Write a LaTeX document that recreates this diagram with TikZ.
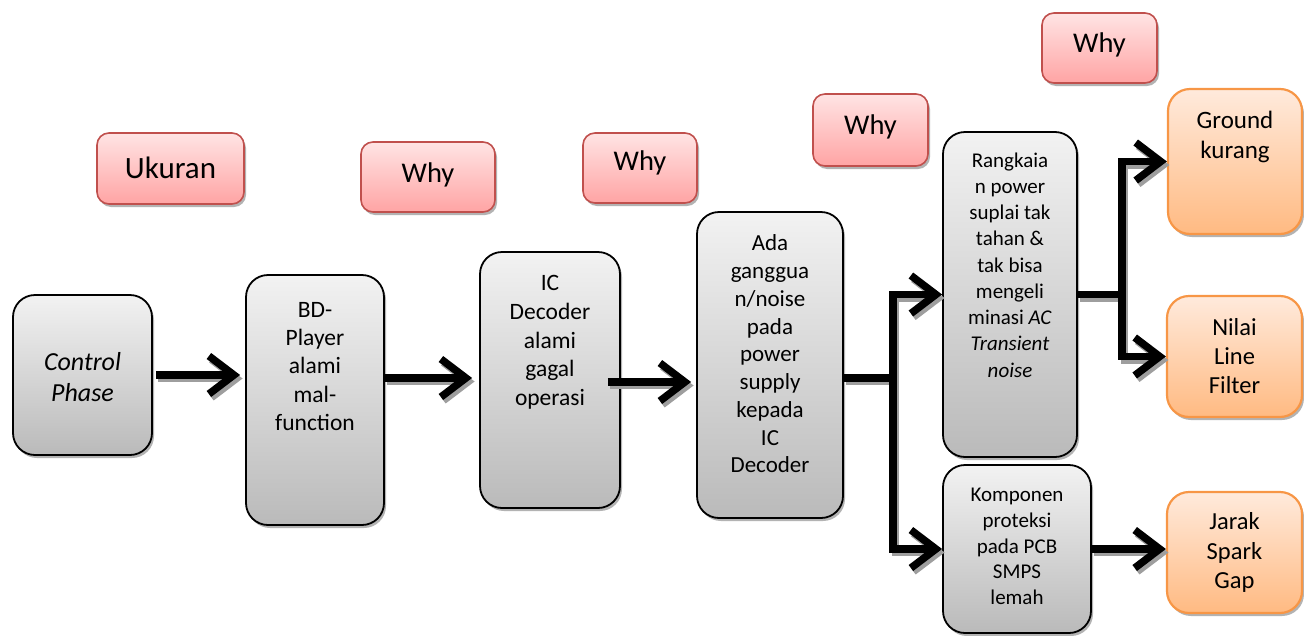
\documentclass[tikz,border=0pt]{standalone}
\usepackage{fontspec}
\setmainfont{Carlito}
\usetikzlibrary{arrows.meta,shadows}

\definecolor{redline}{HTML}{C0504D}
\definecolor{redtop}{HTML}{FFE4E4}
\definecolor{redbot}{HTML}{FFA4A4}
\definecolor{orline}{HTML}{F79646}
\definecolor{ortop}{HTML}{FFEADC}
\definecolor{orbot}{HTML}{FFBA82}
\definecolor{graytop}{HTML}{F2F2F2}
\definecolor{graybot}{HTML}{BABABA}

\newcommand\setfs[2]{\fontsize{#1}{#2}\selectfont}

\tikzset{
  sz/.style 2 args={minimum width=#1pt, minimum height=#2pt},
  boxshadow/.style={drop shadow={shadow xshift=2pt, shadow yshift=-3pt, opacity=0.4, fill=black!75}},
  graybox/.style={draw=black, line width=1.8pt, rounded corners=22pt,
    top color=graytop, bottom color=graybot, inner sep=0pt, boxshadow},
  redbox/.style={draw=redline, line width=1.6pt, rounded corners=12pt,
    top color=redtop, bottom color=redbot, inner sep=0pt, boxshadow},
  orbox/.style={draw=orline, line width=2.2pt, rounded corners=22pt,
    top color=ortop, bottom color=orbot, inner sep=0pt, boxshadow},
  txt/.style={align=center, inner sep=0pt, text=black},
  link/.style={draw=black, line width=7.5pt, line join=miter},
  tip/.style={-{Straight Barb[length=25pt, width=38pt]}},
}

% all connectors, drawn once as shadow and once in black
\newcommand\flowlinks{%
  \draw[link, tip, shorten <=3pt, shorten >=5pt] (cp.east) -- (cp.east -| bd.west);
  \draw[link, tip, shorten >=7pt] (s2) -- (s2 -| ic.west);
  \draw[link, tip, shorten >=5pt] (s3) -- (s3 -| ada.west);
  \draw[link] (s4) -- (j1);
  \draw[link, tip] (j1) |- (rk.west);
  \draw[link, tip] (j1) |- (kp.west);
  \draw[link] (rk.east) -- (j2);
  \draw[link, tip] (j2) |- (gr.west);
  \draw[link, tip] (j2) |- (nl.west);
  \draw[link, tip] (kp.east) -- (kp.east -| jr.west);
}

\begin{document}
\begin{tikzpicture}[x=1pt, y=-1pt]
\useasboundingbox (0,0) rectangle (1304,635);

% question boxes
\node[redbox, sz={147}{71}] (uk) at (170.5,168.5) {};
\node[txt, font=\setfs{31}{36}] (ukt) at (170.5,168) {Ukuran};
\node[redbox, sz={134}{70}] (w1) at (428,177) {};
\node[txt, font=\setfs{28.5}{34}] (w1t) at (428,175) {Why};
\node[redbox, sz={114}{70}] (w2) at (640,168) {};
\node[txt, font=\setfs{28.5}{34}] (w2t) at (640,163) {Why};
\node[redbox, sz={115}{72}] (w3) at (870.5,130) {};
\node[txt, font=\setfs{28.5}{34}] (w3t) at (870.5,127) {Why};
\node[redbox, sz={115}{70}] (w4) at (1099.5,48) {};
\node[txt, font=\setfs{28.5}{34}] (w4t) at (1099.5,45) {Why};

% cause chain
\node[graybox, sz={139}{160}] (cp) at (82.5,375) {};
\node[txt, font=\setfs{26}{31}\itshape] (cpt) at (82.5,377) {Control\\Phase};

\node[graybox, sz={138}{250}] (bd) at (315,400) {};
\node[txt, font=\setfs{23.5}{28.3}] (bdt) at (315,366.5) {BD-\\Player\\alami\\mal-\\function};

\node[graybox, sz={140}{256}] (ic) at (550,380) {};
\node[txt, font=\setfs{23.5}{28.75}] (ict) at (550,342.5) {IC\\Decoder\\alami\\gagal\\operasi};

\node[graybox, sz={146}{306}] (ada) at (770,365) {};
\node[txt, font=\setfs{23}{27.75}] (adat) at (770,354) {Ada\\ganggua\\n/noise\\pada\\power\\supply\\kepada\\IC\\Decoder};

\node[graybox, sz={134}{325}] (rk) at (1010,294.5) {};
\node[txt, font=\setfs{21}{26.25}] (rkt) at (1010,265) {Rangkaia\\n power\\suplai tak\\tahan \&\\tak bisa\\mengeli\\minasi \textit{AC}\\\textit{Transient}\\\textit{noise}};

\node[graybox, sz={148}{168}] (kp) at (1017,549) {};
\node[txt, font=\setfs{21}{25.8}] (kpt) at (1017,546.5) {Komponen\\proteksi\\pada PCB\\SMPS\\lemah};

% root causes
\node[orbox, sz={134}{145}] (gr) at (1235,161.5) {};
\node[txt, font=\setfs{25}{30}] (grt) at (1235,137) {Ground\\kurang};
\node[orbox, sz={135}{121}] (nl) at (1234.5,356.5) {};
\node[txt, font=\setfs{24.5}{29}] (nlt) at (1234.5,356) {Nilai\\Line\\Filter};
\node[orbox, sz={135}{121}] (jr) at (1234.5,552.5) {};
\node[txt, font=\setfs{24.5}{29.5}] (jrt) at (1234.5,552.5) {Jarak\\Spark\\Gap};

% connector start points and junctions
\coordinate (s2) at ([yshift=22pt]bd.east);
\coordinate (s3) at ([xshift=-13pt, yshift=-2pt]ic.east);
\coordinate (s4) at ([yshift=-13pt]ada.east);
\coordinate (j1) at (893,378);
\coordinate (j2) at (1122,294.5);

\begin{scope}[transform canvas={shift={(2.5pt,-3.5pt)}},
    link/.style={draw=black!38, line width=7.5pt, line join=miter}]
  \flowlinks
\end{scope}
\flowlinks
\end{tikzpicture}
\end{document}
